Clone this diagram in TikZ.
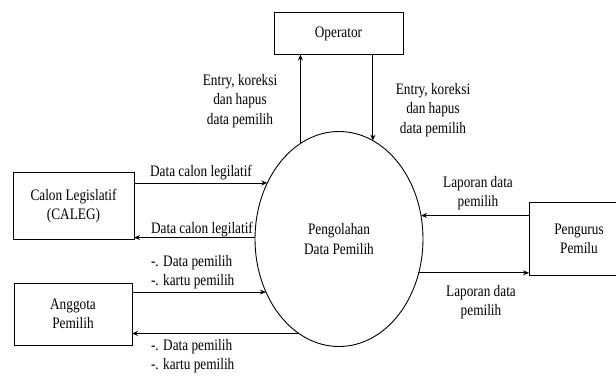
\documentclass[tikz,border=0pt]{standalone}
\usepackage{fontspec}
\setmainfont{Liberation Serif}[FakeStretch=0.83]
\usetikzlibrary{shapes.geometric,arrows.meta}
\begin{document}
\begin{tikzpicture}[x=1pt,y=-1pt,
  every node/.style={font=\fontsize{16}{19.5}\selectfont, inner sep=0pt, outer sep=0pt},
  entity/.style={draw, line width=0.9pt, align=center},
  proc/.style={draw, ellipse, line width=0.9pt, align=center, minimum width=168pt, minimum height=215pt},
  lbl/.style={align=center},
  lbll/.style={align=left},
  arr/.style={line width=0.9pt, -{Stealth[length=6pt,width=5pt]}}]
\useasboundingbox (0,0) rectangle (616,375);
\node[entity, minimum width=129pt, minimum height=42pt] (op) at (338.5,33.5) {Operator};
\node[entity, minimum width=121pt, minimum height=67pt] (calon) at (73.5,206.3) {Calon Legislatif\\(CALEG)};
\node[entity, minimum width=118pt, minimum height=62pt] (angg) at (73,314) {Anggota\\Pemilih};
\node[entity, minimum width=100pt, minimum height=73pt] (peng) at (579,239) {Pengurus\\Pemilu};
\node[proc] (ell) at (339,239) {Pengolahan\\Data Pemilih};
% connectors
\draw[arr] (ell.112.3) -- (ell.112.3 |- op.south);
\draw[arr] (op.south -| ell.71.5) -- (ell.71.5);
\draw[arr] (calon.east |- ell.142.9) -- (ell.142.9);
\draw[arr] (ell.179) -- (calon.east |- ell.179);
\draw[arr] (angg.east |- ell.216.4) -- (ell.216.4);
\draw[arr] (ell.247.8) -- (angg.east |- ell.247.8);
\draw[arr] (peng.west |- ell.16.8) -- (ell.16.8);
\draw[arr] (ell.337.8) -- (peng.west |- ell.337.8);
% labels
\node[lbl] (t1) at (240,100.7) {Entry, koreksi\\dan hapus\\data pemilih};
\node[lbl] (t2) at (433,110) {Entry, koreksi\\dan hapus\\data pemilih};
\node[lbl] (t3) at (201,172.3) {Data calon legilatif};
\node[lbl] (t4) at (202,230) {Data calon legilatif};
\node[lbll, anchor=west] (t5) at (151,272.3) {-. Data pemilih\\-. kartu pemilih};
\node[lbll, anchor=west] (t6) at (151,356.3) {-. Data pemilih\\-. kartu pemilih};
\node[lbl] (t7) at (478,193.3) {Laporan data\\pemilih};
\node[lbl] (t8) at (481,302) {Laporan data\\pemilih};
\end{tikzpicture}
\end{document}
